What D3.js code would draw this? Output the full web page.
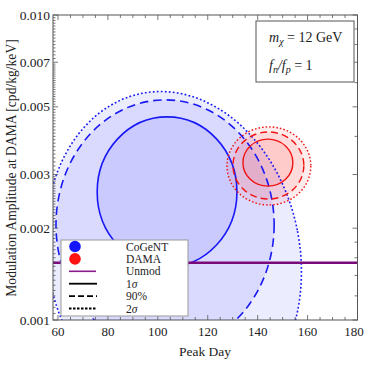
<!DOCTYPE html>
<html>
<head>
<meta charset="utf-8">
<script src="https://cdn.jsdelivr.net/npm/d3@7"></script>
<style>
  body { margin: 0; background: #fff; }
  text { font-family: "Liberation Serif", "DejaVu Serif", serif; fill: #222; }
</style>
</head>
<body>
<svg id="chart" width="366" height="366"></svg>
<script>
/* global d3 */

// axis ticks
const xTicks = [60, 80, 100, 120, 140, 160, 180];
const yTicks = [0.001, 0.002, 0.003, 0.005, 0.007, 0.010];
const yTickLabels = ['0.001', '0.002', '0.003', '0.005', '0.007', '0.010'];

// unmodulated rate line
const unmodAmp = 0.00154;

// contour levels (1 sigma, 90%, 2 sigma)
const levels = ['1σ', '90%', '2σ'];

// CoGeNT regions: centre (day, amplitude), half width in days, half height in decades, tilt
const cogentDay = [103.7, 102.9, 106.3];
const cogentAmp = [0.00263, 0.00205, 0.00163];
const cogentRDay = [28.0, 43.7, 50.6];
const cogentRDec = [0.246, 0.410, 0.541];
const cogentTilt = [0, 0, -11];

// DAMA regions
const damaDay = [144.1, 144.3, 144.5];
const damaAmp = [0.00328, 0.00321, 0.00320];
const damaRDay = [10.0, 14.2, 16.8];
const damaRDec = [0.077, 0.110, 0.128];
const damaTilt = [0, 0, 0];

const legendLabels = ['CoGeNT', 'DAMA', 'Unmod', '1σ', '90%', '2σ'];

var svg = d3.select('#chart');
var pLeft = 53, pRight = 357.5, pTop = 15, pBottom = 320;

var x = d3.scaleLinear().domain([58, 180]).range([pLeft, pRight]);
var y = d3.scaleLog().domain([0.001, 0.01]).range([pBottom, pTop]);

svg.append('defs').append('clipPath').attr('id', 'plot')
  .append('rect')
  .attr('x', pLeft).attr('y', pTop)
  .attr('width', pRight - pLeft).attr('height', pBottom - pTop);

var plot = svg.append('g').attr('clip-path', 'url(#plot)');

function regions(days, amps, rDays, rDecs, tilts) {
  return levels.map((lv, i) => ({
    level: i,
    cx: x(days[i]),
    cy: y(amps[i]),
    rx: x(days[i] + rDays[i]) - x(days[i]),
    ry: y(amps[i]) - y(amps[i] * Math.pow(10, rDecs[i])),
    tilt: tilts[i]
  }));
}

var cogent = regions(cogentDay, cogentAmp, cogentRDay, cogentRDec, cogentTilt);
var dama = regions(damaDay, damaAmp, damaRDay, damaRDec, damaTilt);

// filled areas, outermost first
function fills(data, color, opacity) {
  plot.append('g').selectAll('ellipse')
    .data(data.slice().reverse())
    .enter().append('ellipse')
    .attr('cx', d => d.cx).attr('cy', d => d.cy)
    .attr('rx', d => d.rx).attr('ry', d => d.ry)
    .attr('transform', d => `rotate(${d.tilt},${d.cx},${d.cy})`)
    .style('fill', color)
    .style('fill-opacity', opacity)
    .style('stroke', 'none');
}

fills(cogent, 'rgb(40,40,255)', 0.085);
fills(dama, 'rgb(255,40,40)', 0.09);

function outlines(data, color, width, dashes) {
  plot.append('g').selectAll('ellipse')
    .data(data)
    .enter().append('ellipse')
    .attr('cx', d => d.cx).attr('cy', d => d.cy)
    .attr('rx', d => d.rx).attr('ry', d => d.ry)
    .attr('transform', d => `rotate(${d.tilt},${d.cx},${d.cy})`)
    .style('fill', 'none')
    .style('stroke', color)
    .style('stroke-width', width)
    .style('stroke-dasharray', d => dashes[d.level]);
}

outlines(cogent, 'rgb(25,25,245)', 1.6, ['none', '8.5,5', '1.8,2.2']);
outlines(dama, 'rgb(240,20,20)', 1.4, ['none', '7,4', '1.6,2']);

// unmodulated line
plot.append('line')
  .attr('x1', pLeft).attr('x2', pRight)
  .attr('y1', y(unmodAmp)).attr('y2', y(unmodAmp))
  .style('stroke', '#7a0a7a')
  .style('stroke-width', 2.6);

// frame
svg.append('rect')
  .attr('x', pLeft).attr('y', pTop)
  .attr('width', pRight - pLeft).attr('height', pBottom - pTop)
  .style('fill', 'none').style('stroke', '#555').style('stroke-width', 1);

var ticks = svg.append('g').style('stroke', '#555').style('stroke-width', 0.8);

// x ticks, bottom and top
var xMinor = d3.range(60, 181, 5).filter(v => v % 20 !== 0);
xTicks.forEach(v => {
  ticks.append('line').attr('x1', x(v)).attr('x2', x(v)).attr('y1', pBottom).attr('y2', pBottom - 5);
  ticks.append('line').attr('x1', x(v)).attr('x2', x(v)).attr('y1', pTop).attr('y2', pTop + 5);
});
xMinor.forEach(v => {
  ticks.append('line').attr('x1', x(v)).attr('x2', x(v)).attr('y1', pBottom).attr('y2', pBottom - 3);
  ticks.append('line').attr('x1', x(v)).attr('x2', x(v)).attr('y1', pTop).attr('y2', pTop + 3);
});

// y ticks, left dense minor, right sparse
var yMinorLeft = d3.range(1.05, 3, 0.05).concat(d3.range(3.1, 7, 0.1), d3.range(7.2, 10, 0.2))
  .map(v => v / 1000)
  .filter(v => !yTicks.some(t => Math.abs(t - v) < 1e-7));
var yMinorRight = d3.range(1.2, 2, 0.2).concat(d3.range(2, 10, 1)).map(v => v / 1000)
  .filter(v => !yTicks.some(t => Math.abs(t - v) < 1e-7));

yTicks.forEach(v => {
  ticks.append('line').attr('x1', pLeft).attr('x2', pLeft + 5).attr('y1', y(v)).attr('y2', y(v));
  ticks.append('line').attr('x1', pRight).attr('x2', pRight - 5).attr('y1', y(v)).attr('y2', y(v));
});
yMinorLeft.forEach(v => {
  ticks.append('line').attr('x1', pLeft).attr('x2', pLeft + 2.5).attr('y1', y(v)).attr('y2', y(v));
});
yMinorRight.forEach(v => {
  ticks.append('line').attr('x1', pRight).attr('x2', pRight - 3).attr('y1', y(v)).attr('y2', y(v));
});

// tick labels (keep the last one inside the page)
svg.append('g').selectAll('text').data(xTicks).enter().append('text')
  .attr('x', d => Math.min(x(d), 354))
  .attr('y', pBottom + 16)
  .attr('text-anchor', 'middle')
  .style('font-size', '13px')
  .text(d => d);

svg.append('g').selectAll('text').data(yTicks).enter().append('text')
  .attr('x', pLeft - 3).attr('y', d => y(d) + 4.5)
  .attr('text-anchor', 'end')
  .style('font-size', '13.5px')
  .text((d, i) => yTickLabels[i]);

// axis titles
svg.append('text')
  .attr('x', 205).attr('y', 356)
  .attr('text-anchor', 'middle')
  .style('font-size', '13.5px')
  .text('Peak Day');

svg.append('text')
  .attr('transform', 'translate(16,168) rotate(-90)')
  .attr('text-anchor', 'middle')
  .style('font-size', '13.6px')
  .text('Modulation Amplitude at DAMA [cpd/kg/keV]');

// parameter box
svg.append('rect')
  .attr('x', 256).attr('y', 21).attr('width', 98).attr('height', 61)
  .style('fill', '#fff').style('stroke', '#555').style('stroke-width', 1);

var t1 = svg.append('text').attr('x', 269).attr('y', 42).style('font-size', '14px');
t1.append('tspan').style('font-style', 'italic').text('m');
t1.append('tspan').attr('dy', 3).style('font-size', '10px').style('font-style', 'italic').text('χ');
t1.append('tspan').attr('dy', -3).text(' = 12 GeV');

var t2 = svg.append('text').attr('x', 269).attr('y', 70).style('font-size', '14px');
t2.append('tspan').style('font-style', 'italic').text('f');
t2.append('tspan').attr('dy', 2.5).style('font-size', '10px').style('font-style', 'italic').text('n');
t2.append('tspan').attr('dy', -2.5).style('font-style', 'italic').text('/f');
t2.append('tspan').attr('dy', 2.5).style('font-size', '10px').style('font-style', 'italic').text('p');
t2.append('tspan').attr('dy', -2.5).text(' = 1');

// legend
var legend = svg.append('g');
legend.append('rect')
  .attr('x', 61).attr('y', 240).attr('width', 127).attr('height', 76)
  .style('fill', '#fff').style('stroke', '#999').style('stroke-width', 1);

var rowY = i => 246.5 + i * 12.4;
legend.append('circle').attr('cx', 75).attr('cy', rowY(0)).attr('r', 5.8).style('fill', 'rgb(20,20,255)');
legend.append('circle').attr('cx', 75).attr('cy', rowY(1)).attr('r', 5.8).style('fill', 'rgb(255,20,20)');
legend.append('line').attr('x1', 69).attr('x2', 96).attr('y1', rowY(2)).attr('y2', rowY(2))
  .style('stroke', '#8a1a8a').style('stroke-width', 1.6);
[['none'], ['6,3'], ['2.5,1.5']].forEach((dash, i) => {
  legend.append('line').attr('x1', 69).attr('x2', 97).attr('y1', rowY(3 + i)).attr('y2', rowY(3 + i))
    .style('stroke', '#000').style('stroke-width', 1.8).style('stroke-dasharray', dash[0]);
});

// labels: only the sigma glyph is italic
legend.selectAll('text.lbl').data(legendLabels).enter().append('text')
  .attr('class', 'lbl')
  .attr('x', 126).attr('y', (d, i) => rowY(i) + 4)
  .style('font-size', '11.5px')
  .each(function(d) {
    var t = d3.select(this);
    d.split(/(σ)/).filter(s => s.length).forEach(s => {
      t.append('tspan').style('font-style', s === 'σ' ? 'italic' : 'normal').text(s);
    });
  });
</script>
</body>
</html>
